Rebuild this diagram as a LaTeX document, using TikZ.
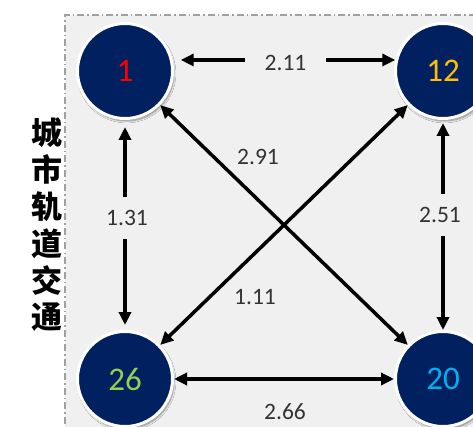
\documentclass[tikz,border=0pt]{standalone}
\usepackage{fontspec}
\setmainfont{Carlito}
\newfontfamily\cjk{Noto Sans CJK SC}
\usetikzlibrary{arrows.meta,shadows.blur}
\definecolor{bgc}{HTML}{F0F0F0}
\definecolor{navy}{HTML}{002060}
\definecolor{boxc}{HTML}{A0A0A0}
\definecolor{lblc}{HTML}{333333}
\definecolor{cred}{HTML}{FF0000}
\definecolor{cgold}{HTML}{FFC000}
\definecolor{cgreen}{HTML}{92D050}
\definecolor{cblue}{HTML}{00B0F0}
\begin{document}
\begin{tikzpicture}[x=1pt,y=-1pt,
  station/.style={circle, fill=navy, draw=white, line width=3pt, minimum size=95pt, inner sep=0pt,
    font=\fontsize{33}{33}\selectfont,
    blur shadow={shadow blur steps=6, shadow xshift=1.5pt, shadow yshift=-2.5pt, shadow opacity=45}},
  conn/.style={line width=3.5pt, {Triangle[length=13pt,width=12pt]}-{Triangle[length=13pt,width=12pt]}},
  lbl/.style={font=\fontsize{23.5}{24}\selectfont, text=lblc, inner sep=0pt},
  gaph/.style={lbl, fill=bgc, inner xsep=20pt, inner ysep=2pt},
  gapv/.style={lbl, fill=bgc, inner xsep=2pt, inner ysep=13pt},
]
\useasboundingbox (0,0) rectangle (473,427);
\clip (0,0) rectangle (473,427);
\fill[white] (0,0) rectangle (473,427);
\fill[bgc] (65,15) rectangle (490,440);
\draw[boxc, line width=1.5pt, dash pattern=on 7pt off 3pt on 1.5pt off 3pt] (490,15) -- (65,15) -- (65,440);

\node[font={\cjk\bfseries\fontsize{31}{36.8}\selectfont}, align=center, inner sep=0pt] (title) at (47,225) {城\\市\\轨\\道\\交\\通};

\node[station, text=cred]   (n1)  at (125,71)  {1};
\node[station, text=cgold]  (n12) at (443,71)  {12};
\node[station, text=cgreen] (n26) at (125,379) {26};
\node[station, text=cblue]  (n20) at (443,379) {20};

\draw[conn, shorten <=8pt] (n1.13) -- (n12.167);
\draw[conn, shorten <=7pt, shorten >=5pt] (n1) -- (n26);
\draw[conn, shorten <=3pt] (n12) -- (n20);
\draw[conn] (n1) -- (n20);
\draw[conn] (n12) -- (n26);
\draw[conn] (n26) -- (n20);

\node[gaph] (l211) at (285.5,63) {2.11};
\node[gapv] (l131) at (127,218) {1.31};
\node[gapv] (l251) at (440,215) {2.51};
\node[lbl]  (l291) at (258,157) {2.91};
\node[lbl]  (l111) at (255,297) {1.11};
\node[lbl]  (l266) at (285,412) {2.66};
\end{tikzpicture}
\end{document}
